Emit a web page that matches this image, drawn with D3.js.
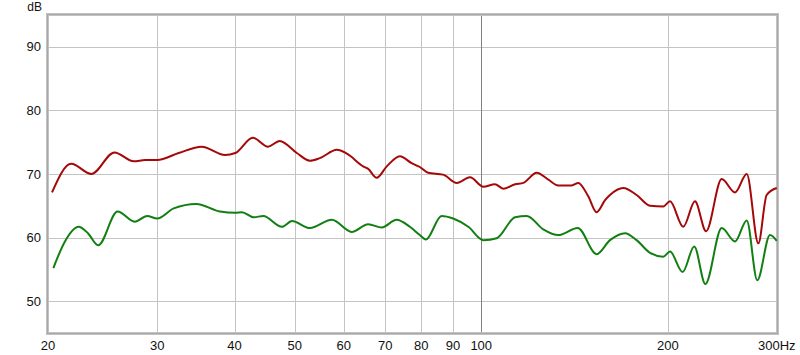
<!DOCTYPE html>
<html>
<head>
<meta charset="utf-8">
<script src="https://cdn.jsdelivr.net/npm/d3@7"></script>
<style>
  html, body { margin: 0; padding: 0; background: #fff; }
  svg { display: block; font-family: "Liberation Sans", Arial, sans-serif; }
</style>
</head>
<body>
<div id="chart"></div>
<script>
// values (Hz / dB)
const redFreq = [20.3, 21.8, 23.5, 25.6, 27.5, 28.7, 30.0, 32.5, 35.4, 38.6, 40.1, 42.8, 45.3, 47.3, 50.4,
  52.9, 54.9, 58.5, 60.7, 64.5, 65.7, 67.8, 70.4, 73.9, 77.2, 79.6, 82.1, 86.8, 91.3, 95.9, 100.8, 105.2,
  108.5, 113.4, 116.9, 122.9, 128.3, 133.1, 139.9, 143.4, 148.8, 153.5, 158.4, 161.3, 169.5, 178.1, 187.2,
  196.6, 201.6, 211.8, 221.2, 230.5, 244.3, 256.7, 268.1, 279.9, 288.7, 299.7];
const redDb = [67.1, 71.6, 70.0, 73.4, 72.0, 72.2, 72.2, 73.3, 74.3, 73.0, 73.3, 75.7, 74.3, 75.2, 73.3,
  72.1, 72.5, 73.8, 73.2, 71.2, 70.8, 69.4, 71.2, 72.8, 71.7, 71.1, 70.2, 69.9, 68.6, 69.5, 68.0, 68.4,
  67.7, 68.4, 68.6, 70.2, 69.1, 68.2, 68.2, 68.6, 66.5, 64.0, 65.9, 66.7, 67.8, 66.7, 65.0,
  64.9, 65.7, 61.7, 65.7, 61.0, 69.2, 67.1, 70.0, 59.1, 66.7, 67.8];

const greenFreq = [20.4, 21.3, 22.4, 23.2, 24.1, 25.9, 27.6, 28.9, 30.0, 31.9, 34.7, 37.9, 40.1, 41.1, 42.9,
  44.5, 47.7, 49.5, 52.9, 57.4, 61.8, 65.7, 69.1, 73.0, 76.7, 79.6, 81.4, 86.3, 90.1, 95.3, 100.8, 105.9,
  113.4, 118.4, 125.9, 133.1, 143.1, 153.5, 161.3, 170.6, 178.1, 187.2, 196.6, 201.6, 211.3, 220.6, 229.9,
  244.3, 256.7, 268.1, 278.8, 292.3, 299.7];
const greenDb = [55.2, 59.4, 61.7, 60.7, 58.8, 64.1, 62.5, 63.4, 63.0, 64.6, 65.3, 64.1, 63.9, 64.0, 63.2,
  63.4, 61.7, 62.6, 61.5, 62.8, 60.9, 62.1, 61.6, 62.8, 61.7, 60.4, 59.7, 63.4, 63.0, 61.7, 59.6, 59.9,
  63.2, 63.4, 61.3, 60.4, 61.5, 57.4, 59.6, 60.7, 59.6, 57.6, 57.0, 57.8, 54.6, 58.6, 52.7,
  61.5, 59.4, 62.7, 53.3, 60.4, 59.5];

const xTicks = [20, 30, 40, 50, 60, 70, 80, 90, 100, 200, 300];
const xLabels = ["20", "30", "40", "50", "60", "70", "80", "90", "100", "200", "300Hz"];
const yTicks = [50, 60, 70, 80, 90];

const width = 800, height = 355;
const plotLeft = 48, plotRight = 777, plotTop = 15, plotBottom = 333;

const svg = d3.select("#chart").append("svg")
  .attr("width", width)
  .attr("height", height);

const x = d3.scaleLog().domain([20, 300]).range([plotLeft, plotRight]);
const y = d3.scaleLinear().domain([45, 95]).range([plotBottom, plotTop]);

// grid
svg.append("g")
  .selectAll("line")
  .data(yTicks)
  .join("line")
  .attr("x1", plotLeft).attr("x2", plotRight)
  .attr("y1", d => Math.round(y(d)) + 0.5).attr("y2", d => Math.round(y(d)) + 0.5)
  .attr("stroke", "#c4c4c4")
  .attr("stroke-width", 1);

svg.append("g")
  .selectAll("line")
  .data(xTicks.slice(1, -1))
  .join("line")
  .attr("x1", d => Math.round(x(d)) + 0.5).attr("x2", d => Math.round(x(d)) + 0.5)
  .attr("y1", plotTop).attr("y2", plotBottom)
  .attr("stroke", d => d === 100 ? "#808080" : "#c4c4c4")
  .attr("stroke-width", 1);

// frame
svg.append("rect")
  .attr("x", plotLeft - 0.5).attr("y", plotTop - 0.5)
  .attr("width", plotRight - plotLeft + 1).attr("height", plotBottom - plotTop + 1)
  .attr("fill", "none")
  .attr("stroke", "#c2c2c2")
  .attr("stroke-width", 3);
svg.append("rect")
  .attr("x", plotLeft - 0.5).attr("y", plotTop - 0.5)
  .attr("width", plotRight - plotLeft + 1).attr("height", plotBottom - plotTop + 1)
  .attr("fill", "none")
  .attr("stroke", "#a8a8a8")
  .attr("stroke-width", 1);

// curves
const line = d3.line()
  .x(d => x(d[0]))
  .y(d => y(d[1]))
  .curve(d3.curveMonotoneX);

svg.append("path")
  .datum(redFreq.map((f, i) => [f, redDb[i]]))
  .attr("d", line)
  .attr("fill", "none")
  .attr("stroke", "#a50808")
  .attr("stroke-width", 2);

svg.append("path")
  .datum(greenFreq.map((f, i) => [f, greenDb[i]]))
  .attr("d", line)
  .attr("fill", "none")
  .attr("stroke", "#127f12")
  .attr("stroke-width", 2);

// labels
svg.append("g")
  .selectAll("text")
  .data(yTicks)
  .join("text")
  .attr("x", 41)
  .attr("y", d => y(d) + 4.5)
  .attr("text-anchor", "end")
  .attr("font-size", 13)
  .attr("fill", "#111")
  .text(d => d);

svg.append("text")
  .attr("x", 42).attr("y", 11)
  .attr("text-anchor", "end")
  .attr("font-size", 12)
  .attr("fill", "#111")
  .text("dB");

svg.append("g")
  .selectAll("text")
  .data(xTicks)
  .join("text")
  .attr("x", (d, i) => i === xTicks.length - 1 ? x(d) - 19 : x(d))
  .attr("y", 350)
  .attr("text-anchor", (d, i) => i === xTicks.length - 1 ? "start" : "middle")
  .attr("font-size", 13)
  .attr("fill", "#111")
  .text((d, i) => xLabels[i]);
</script>
</body>
</html>
